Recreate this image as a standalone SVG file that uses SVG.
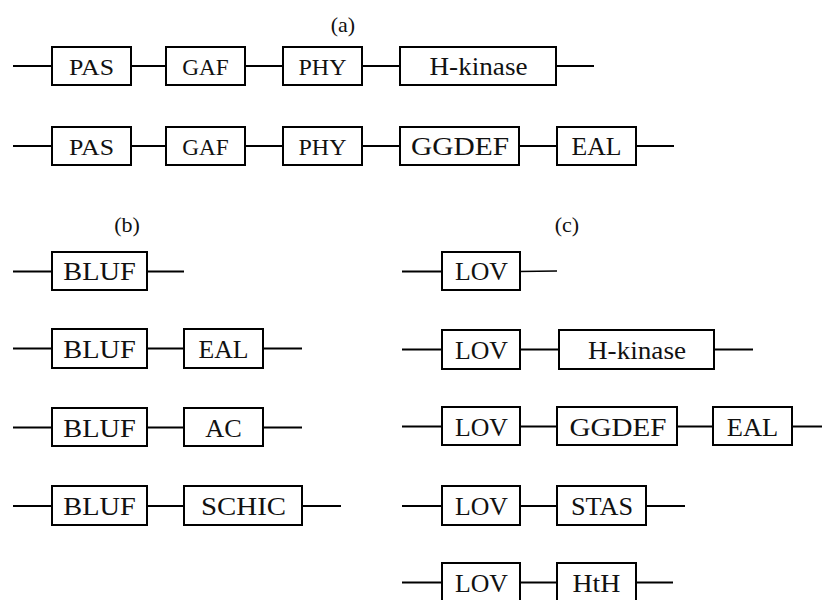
<svg xmlns="http://www.w3.org/2000/svg" width="822" height="600" viewBox="0 0 822 600">
  <style>
    .box { fill: #ffffff; stroke: #000000; stroke-width: 2; }
    .link { stroke: #000000; stroke-width: 2; fill: none; }
    .thin { stroke-width: 1.3; }
    text { font-family: "Liberation Serif", "Times New Roman", serif; fill: #111111; text-anchor: middle; }
    .lbl { font-size: 25px; }
    .sm { font-size: 23px; }
    .cap { font-size: 22px; }
  </style>
  <rect width="822" height="600" fill="#ffffff"/>

  <!-- panel captions -->
  <text class="cap" x="343" y="32">(a)</text>
  <text class="cap" x="127" y="232">(b)</text>
  <text class="cap" x="567" y="232">(c)</text>

  <!-- backbone lines between domains -->
  <g id="connectors">
    <!-- (a) row 1 -->
    <line class="link" x1="13" y1="66" x2="52" y2="66"/>
    <line class="link" x1="131" y1="66" x2="166" y2="66"/>
    <line class="link" x1="245" y1="66" x2="283" y2="66"/>
    <line class="link" x1="362" y1="66" x2="400" y2="66"/>
    <line class="link" x1="556" y1="66" x2="594" y2="66"/>
    <!-- (a) row 2 -->
    <line class="link" x1="13" y1="146" x2="52" y2="146"/>
    <line class="link" x1="131" y1="146" x2="166" y2="146"/>
    <line class="link" x1="245" y1="146" x2="283" y2="146"/>
    <line class="link" x1="362" y1="146" x2="400" y2="146"/>
    <line class="link" x1="519" y1="146" x2="557" y2="146"/>
    <line class="link" x1="636" y1="146" x2="674" y2="146"/>
    <!-- (b) -->
    <line class="link" x1="13" y1="271.5" x2="52" y2="271.5"/>
    <line class="link" x1="147" y1="271.5" x2="184" y2="271.5"/>
    <line class="link" x1="13" y1="348.5" x2="52" y2="348.5"/>
    <line class="link" x1="147" y1="348.5" x2="184" y2="348.5"/>
    <line class="link" x1="263" y1="348.5" x2="302" y2="348.5"/>
    <line class="link" x1="13" y1="427.5" x2="52" y2="427.5"/>
    <line class="link" x1="147" y1="427.5" x2="184" y2="427.5"/>
    <line class="link" x1="263" y1="427.5" x2="302" y2="427.5"/>
    <line class="link" x1="13" y1="506" x2="52" y2="506"/>
    <line class="link" x1="147" y1="506" x2="184" y2="506"/>
    <line class="link" x1="302" y1="506" x2="341" y2="506"/>
    <!-- (c) -->
    <line class="link" x1="402" y1="271.5" x2="442" y2="271.5"/>
    <line class="link thin" x1="519" y1="271.5" x2="557" y2="271"/>
    <line class="link" x1="402" y1="349.5" x2="442" y2="349.5"/>
    <line class="link" x1="520" y1="349.5" x2="559" y2="349.5"/>
    <line class="link" x1="714" y1="349.5" x2="753" y2="349.5"/>
    <line class="link" x1="402" y1="426.5" x2="442" y2="426.5"/>
    <line class="link" x1="520" y1="426.5" x2="557" y2="426.5"/>
    <line class="link" x1="677" y1="426.5" x2="713" y2="426.5"/>
    <line class="link" x1="792" y1="426.5" x2="822" y2="426.5"/>
    <line class="link" x1="402" y1="506" x2="442" y2="506"/>
    <line class="link" x1="520" y1="506" x2="557" y2="506"/>
    <line class="link" x1="646" y1="506" x2="685" y2="506"/>
    <line class="link" x1="402" y1="582.5" x2="442" y2="582.5"/>
    <line class="link" x1="520" y1="582.5" x2="557" y2="582.5"/>
    <line class="link" x1="636" y1="582.5" x2="673" y2="582.5"/>
  </g>

  <!-- (a) row 1 -->
  <g id="a1-pas"><rect class="box" x="52" y="47" width="79" height="38"/><text class="sm" x="91.5" y="75" textLength="45" lengthAdjust="spacingAndGlyphs">PAS</text></g>
  <g id="a1-gaf"><rect class="box" x="166" y="47" width="79" height="38"/><text class="sm" x="205.5" y="75" textLength="46.5" lengthAdjust="spacingAndGlyphs">GAF</text></g>
  <g id="a1-phy"><rect class="box" x="283" y="47" width="79" height="38"/><text class="sm" x="322.5" y="75" textLength="48" lengthAdjust="spacingAndGlyphs">PHY</text></g>
  <g id="a1-hkinase"><rect class="box" x="400" y="47" width="156" height="38"/><text class="lbl" x="478.5" y="75" textLength="98" lengthAdjust="spacingAndGlyphs">H-kinase</text></g>

  <!-- (a) row 2 -->
  <g id="a2-pas"><rect class="box" x="52" y="127" width="79" height="38"/><text class="sm" x="91.5" y="155" textLength="45" lengthAdjust="spacingAndGlyphs">PAS</text></g>
  <g id="a2-gaf"><rect class="box" x="166" y="127" width="79" height="38"/><text class="sm" x="205.5" y="155" textLength="46.5" lengthAdjust="spacingAndGlyphs">GAF</text></g>
  <g id="a2-phy"><rect class="box" x="283" y="127" width="79" height="38"/><text class="sm" x="322.5" y="155" textLength="48" lengthAdjust="spacingAndGlyphs">PHY</text></g>
  <g id="a2-ggdef"><rect class="box" x="400" y="127" width="119" height="38"/><text class="lbl" x="460" y="155" textLength="98" lengthAdjust="spacingAndGlyphs">GGDEF</text></g>
  <g id="a2-eal"><rect class="box" x="557" y="127" width="79" height="38"/><text class="lbl" x="596.5" y="155" textLength="50" lengthAdjust="spacingAndGlyphs">EAL</text></g>

  <!-- (b) BLUF proteins -->
  <g id="b1-bluf"><rect class="box" x="52" y="252" width="95" height="38"/><text class="lbl" x="99.5" y="280" textLength="72.5" lengthAdjust="spacingAndGlyphs">BLUF</text></g>
  <g id="b2-bluf"><rect class="box" x="52" y="329" width="95" height="39"/><text class="lbl" x="99.5" y="357.5" textLength="72.5" lengthAdjust="spacingAndGlyphs">BLUF</text></g>
  <g id="b2-eal"><rect class="box" x="184" y="329" width="79" height="39"/><text class="lbl" x="223.5" y="357.5" textLength="50" lengthAdjust="spacingAndGlyphs">EAL</text></g>
  <g id="b3-bluf"><rect class="box" x="52" y="408" width="95" height="38"/><text class="lbl" x="99.5" y="436.5" textLength="72.5" lengthAdjust="spacingAndGlyphs">BLUF</text></g>
  <g id="b3-ac"><rect class="box" x="184" y="408" width="79" height="38"/><text class="lbl" x="223.5" y="436.5" textLength="36.5" lengthAdjust="spacingAndGlyphs">AC</text></g>
  <g id="b4-bluf"><rect class="box" x="52" y="486" width="95" height="39"/><text class="lbl" x="99.5" y="515" textLength="72.5" lengthAdjust="spacingAndGlyphs">BLUF</text></g>
  <g id="b4-schic"><rect class="box" x="184" y="486" width="118" height="39"/><text class="lbl" x="243.5" y="515" textLength="85" lengthAdjust="spacingAndGlyphs">SCHIC</text></g>

  <!-- (c) LOV proteins -->
  <g id="c1-lov"><rect class="box" x="442" y="252" width="78" height="38"/><text class="lbl" x="481.5" y="280" textLength="53" lengthAdjust="spacingAndGlyphs">LOV</text></g>
  <g id="c2-lov"><rect class="box" x="442" y="330" width="78" height="39"/><text class="lbl" x="481.5" y="358.5" textLength="53" lengthAdjust="spacingAndGlyphs">LOV</text></g>
  <g id="c2-hkinase"><rect class="box" x="559" y="330" width="155" height="39"/><text class="lbl" x="637" y="358.5" textLength="98" lengthAdjust="spacingAndGlyphs">H-kinase</text></g>
  <g id="c3-lov"><rect class="box" x="442" y="407" width="78" height="38"/><text class="lbl" x="481.5" y="435.5" textLength="53" lengthAdjust="spacingAndGlyphs">LOV</text></g>
  <g id="c3-ggdef"><rect class="box" x="557" y="407" width="120" height="38"/><text class="lbl" x="618" y="435.5" textLength="97" lengthAdjust="spacingAndGlyphs">GGDEF</text></g>
  <g id="c3-eal"><rect class="box" x="713" y="407" width="79" height="38"/><text class="lbl" x="752.5" y="435.5" textLength="51.5" lengthAdjust="spacingAndGlyphs">EAL</text></g>
  <g id="c4-lov"><rect class="box" x="442" y="486" width="78" height="39"/><text class="lbl" x="481.5" y="515" textLength="53" lengthAdjust="spacingAndGlyphs">LOV</text></g>
  <g id="c4-stas"><rect class="box" x="557" y="486" width="89" height="39"/><text class="lbl" x="602" y="515" textLength="62" lengthAdjust="spacingAndGlyphs">STAS</text></g>
  <g id="c5-lov"><rect class="box" x="442" y="563" width="78" height="39"/><text class="lbl" x="481.5" y="591.5" textLength="53" lengthAdjust="spacingAndGlyphs">LOV</text></g>
  <g id="c5-hth"><rect class="box" x="557" y="563" width="79" height="39"/><text class="lbl" x="596.5" y="591.5" textLength="48" lengthAdjust="spacingAndGlyphs">HtH</text></g>
</svg>
